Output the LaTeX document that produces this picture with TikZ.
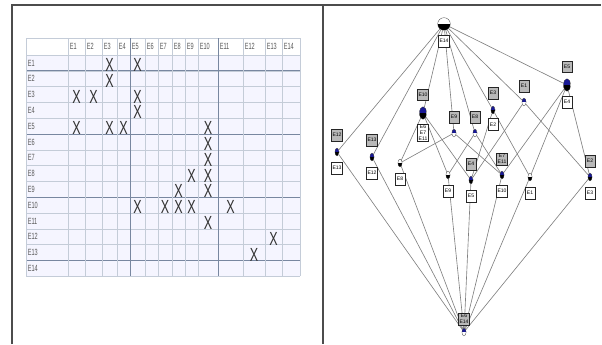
\documentclass[tikz,border=0pt]{standalone}
\usepackage{fontspec}
\setmainfont{Liberation Sans}
\usetikzlibrary{positioning,shapes.geometric}
\definecolor{conblue}{RGB}{25,25,150}
\definecolor{gridcol}{RGB}{196,204,216}
\definecolor{gridthk}{RGB}{120,135,160}
\newcommand{\nm}[1]{\scalebox{0.62}[1]{#1}}
\def\colb{{26,68,85,102,117,130,145,158,172,185,198,218,243,265,282,300}}

\tikzset{
  frameline/.style={draw=black!70, line width=1.4pt},
  gridline/.style={draw=gridcol, line width=0.4pt},
  gridthick/.style={draw=gridthk, line width=0.7pt},
  hdr/.style={anchor=west, inner sep=0pt, text=black!65, font=\fontsize{6.4}{6.4}\selectfont},
  xmark/.style={inner sep=0pt, text=black!80, font=\fontsize{13.5}{13.5}\selectfont},
  latline/.style={draw=black!50, line width=0.45pt},
  concept/.style={ellipse, draw=black!80, line width=0.2pt, minimum width=3pt, minimum height=5.5pt, inner sep=0pt},
  attrobj/.style={concept, path picture={
      \fill[conblue] (path picture bounding box.north west) rectangle (path picture bounding box.east);
      \fill[black] (path picture bounding box.west) rectangle (path picture bounding box.south east);}},
  attronly/.style={concept, fill=white, path picture={
      \fill[conblue] (path picture bounding box.north west) rectangle (path picture bounding box.east);}},
  objonly/.style={concept, fill=white, path picture={
      \fill[black] (path picture bounding box.west) rectangle (path picture bounding box.south east);}},
  bigconcept/.style={minimum width=5pt, minimum height=9pt},
  topconcept/.style={minimum width=9pt, minimum height=9pt},
  attrlab/.style={draw=black!85, fill=gray!55, line width=0.3pt, inner sep=0.8pt, minimum width=7pt, minimum height=8.5pt, align=center, font=\fontsize{3.6}{4.2}\selectfont},
  objlab/.style={attrlab, fill=white}
}

\begin{document}
\begin{tikzpicture}[x=0.025cm,y=-0.025cm]
  \useasboundingbox (0,0) rectangle (602,344);
  % frame of both panels
  \draw[frameline] (12,344) -- (12,5) -- (601,5);
  \draw[frameline] (323,5) -- (323,344);

  % table: background and grid
  \fill[blue!4] (26,55) rectangle (300,276.2);
  \draw[gridline] (26,38) -- (300,38);
  \foreach \r in {0,...,14}
    \draw[gridline] (26,{55+\r*15.8}) -- (300,{55+\r*15.8});
  \foreach \r in {1,5,9,13}
    \draw[gridthick] (26,{55+\r*15.8}) -- (300,{55+\r*15.8});
  \foreach \b in {26,68,85,102,117,130,145,158,172,185,198,218,243,265,282,300}
    \draw[gridline] (\b,38) -- (\b,276.2);
  \foreach \b in {130,218}
    \draw[gridthick] (\b,38) -- (\b,276.2);

  % column and row headers
  \foreach \c in {1,...,14} {
    \pgfmathsetmacro\cl{\colb[\c]+1.5}
    \pgfmathsetmacro\cy{55+(\c-0.5)*15.8}
    \node[hdr] (h\c) at (\cl,46.5) {\nm{E\c}};
    \node[hdr] (r\c) at (27.5,\cy) {\nm{E\c}};
  }

  % crosses of the relation
  \foreach \r/\c in {1/3,1/5,2/3,3/1,3/2,3/5,4/5,5/1,5/3,5/4,5/10,6/10,7/10,8/9,8/10,
                     9/8,9/10,10/5,10/7,10/8,10/9,10/11,11/10,12/13,13/12} {
    \pgfmathtruncatemacro\cn{\c+1}
    \pgfmathsetmacro\ca{\colb[\c]}
    \pgfmathsetmacro\cb{\colb[\cn]}
    \pgfmathsetmacro\cx{(\ca+\cb)/2}
    \pgfmathsetmacro\cy{55+(\r-0.5)*15.8+2}
    \node[xmark] (x\r-\c) at (\cx,\cy) {\scalebox{0.66}[1]{X}};
  }

  % lattice: concepts
  \node[objonly, topconcept] (top) at (444,24) {};
  \node[attrobj] (c12) at (337,152) {};
  \node[attrobj] (c13) at (372,157) {};
  \node[attrobj, bigconcept] (c10) at (423,113) {};
  \node[attronly] (c9) at (454,133) {};
  \node[attronly] (c8) at (475,133) {};
  \node[attrobj] (c3) at (493,110) {};
  \node[attronly] (c1) at (524,102) {};
  \node[attrobj, bigconcept] (c5) at (567,85) {};
  \node[objonly] (e8) at (400,163) {};
  \node[objonly] (e9) at (448,175) {};
  \node[attrobj] (e5) at (471,180) {};
  \node[attrobj] (e10) at (502,175) {};
  \node[objonly] (e1) at (530,177) {};
  \node[attrobj] (e3) at (590,177) {};
  \node[attronly] (bot) at (464,332) {};

  % lattice: lines
  \foreach \a in {c12,c13,c10,c9,c8,c3,c1,c5}
    \draw[latline] (top) -- (\a);
  \foreach \a/\b in {e8/c9,e8/c10,e9/c8,e9/c10,e5/c1,e5/c3,e5/c10,e10/c5,e10/c8,e10/c9,e1/c3,e1/c5,e3/c1,e3/c5}
    \draw[latline] (\a) -- (\b);
  \foreach \a in {c12,c13,e8,e9,e5,e10,e1,e3}
    \draw[latline] (bot) -- (\a);

  % lattice: attribute labels (grey) and object labels (white)
  \node[objlab, below=3pt of top] (o-top) {E14};
  \node[attrlab, above=5pt of c12] (a-c12) {E12};
  \node[objlab, below=4pt of c12] (o-c12) {E13};
  \node[attrlab, above=5pt of c13] (a-c13) {E13};
  \node[objlab, below=4pt of c13] (o-c13) {E12};
  \node[attrlab, above=4pt of c10] (a-c10) {E10};
  \node[objlab, below=3pt of c10] (o-c10) {E6\\E7\\E11};
  \node[attrlab, above=4pt of c9] (a-c9) {E9};
  \node[attrlab, above=4pt of c8] (a-c8) {E8};
  \node[attrlab, above=5pt of c3] (a-c3) {E3};
  \node[objlab, below=3pt of c3] (o-c3) {E2};
  \node[attrlab, above=4pt of c1] (a-c1) {E1};
  \node[attrlab, above=4pt of c5] (a-c5) {E5};
  \node[objlab, below=3pt of c5] (o-c5) {E4};
  \node[objlab, below=4pt of e8] (o-e8) {E8};
  \node[objlab, below=4pt of e9] (o-e9) {E9};
  \node[attrlab, above=4pt of e5] (a-e5) {E4};
  \node[objlab, below=4pt of e5] (o-e5) {E5};
  \node[attrlab, above=4pt of e10] (a-e10) {E7\\E11};
  \node[objlab, below=4pt of e10] (o-e10) {E10};
  \node[objlab, below=4pt of e1] (o-e1) {E1};
  \node[attrlab, above=4pt of e3] (a-e3) {E2};
  \node[objlab, below=4pt of e3] (o-e3) {E3};
  \node[attrlab, above=2pt of bot] (a-bot) {E6\\E14};
\end{tikzpicture}
\end{document}
